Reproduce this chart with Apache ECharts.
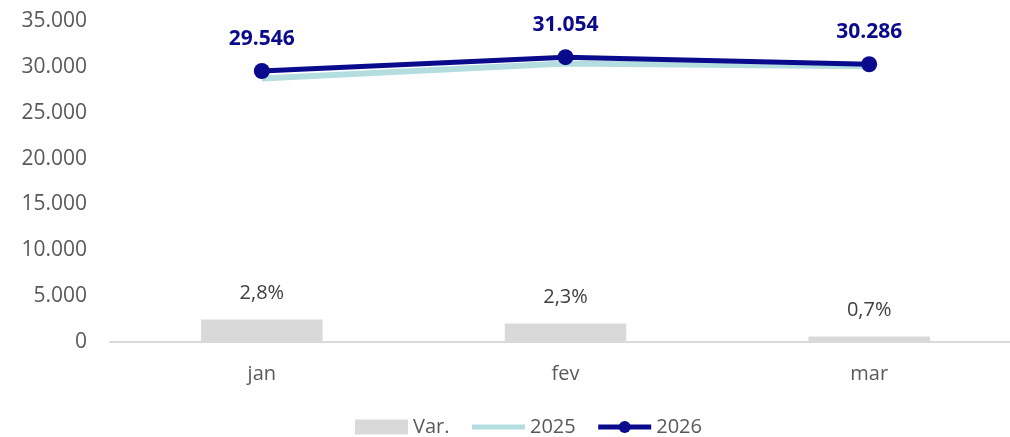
<!DOCTYPE html>
<html>
<head>
<meta charset="utf-8">
<script src="https://cdn.jsdelivr.net/npm/echarts@6/dist/echarts.min.js"></script>
<style>
  html, body { margin: 0; padding: 0; background: #fff; overflow: hidden; }
  /* plot area runs a little past the right edge, like the original crop */
  #chart { width: 1021px; height: 437px; }
</style>
</head>
<body>
<div id="chart"></div>
<script>
const months = ["jan", "fev", "mar"];
const values2025 = [28741, 30356, 30075];
const values2026 = [29546, 31054, 30286];
const variation = [0.028, 0.023, 0.007];

const fontFamily = "'Open Sans', 'Noto Sans', sans-serif";
const grey = "#595959";
const navy = "#0a0a8c";

const fmtThousands = (v) =>
  String(Math.round(v)).replace(/\B(?=(\d{3})+(?!\d))/g, ".");

const chart = echarts.init(document.getElementById("chart"));
chart.setOption({
  animation: false,
  textStyle: { fontFamily },
  grid: { left: 110, right: 0, top: 21, bottom: 95 },
  legend: {
    top: 412,
    left: 350,
    itemGap: 20,
    itemWidth: 53,
    itemHeight: 15,
    textStyle: { color: grey, fontSize: 20, fontFamily },
    data: [
      { name: "Var.", icon: "rect" },
      { name: "2025", itemStyle: { opacity: 0 }, lineStyle: { width: 5 } },
      { name: "2026", lineStyle: { width: 5 } },
    ],
  },
  xAxis: {
    type: "category",
    data: months,
    axisLine: { lineStyle: { color: "#d9d9d9", width: 2 } },
    axisTick: { show: false },
    axisLabel: { color: grey, fontSize: 20, margin: 22, fontFamily },
  },
  yAxis: [
    {
      type: "value",
      min: 0,
      max: 35000,
      interval: 5000,
      splitLine: { show: false },
      axisLine: { show: false },
      axisTick: { show: false },
      axisLabel: {
        color: grey,
        fontSize: 21,
        margin: 23,
        fontFamily,
        formatter: fmtThousands,
      },
    },
    {
      type: "value",
      min: 0,
      max: 0.4,
      show: false,
      splitLine: { show: false },
    },
  ],
  series: [
    {
      name: "Var.",
      type: "bar",
      yAxisIndex: 1,
      data: variation,
      barWidth: "40%",
      itemStyle: { color: "#d9d9d9" },
      label: {
        show: true,
        position: "top",
        distance: 16,
        color: "#404040",
        fontSize: 20,
        fontFamily,
        formatter: (p) => (p.value * 100).toFixed(1).replace(".", ",") + "%",
      },
    },
    {
      name: "2025",
      type: "line",
      data: values2025,
      symbol: "none",
      lineStyle: { color: "#b4dde0", width: 6 },
      itemStyle: { color: "#b4dde0" },
      z: 3,
    },
    {
      name: "2026",
      type: "line",
      data: values2026,
      symbol: "circle",
      symbolSize: 16,
      lineStyle: { color: navy, width: 5 },
      itemStyle: { color: navy },
      z: 4,
      label: {
        show: true,
        position: "top",
        distance: 14,
        color: navy,
        fontSize: 21,
        fontWeight: "bold",
        fontFamily,
        formatter: (p) => fmtThousands(p.value),
      },
    },
  ],
});
</script>
</body>
</html>
